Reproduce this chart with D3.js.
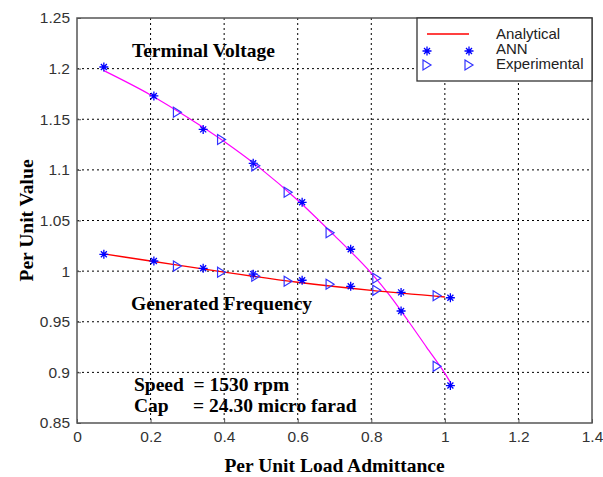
<!DOCTYPE html>
<html>
<head>
<meta charset="utf-8">
<script src="https://cdn.jsdelivr.net/npm/d3@7"></script>
<style>
  body { margin: 0; background: #fff; }
  svg { display: block; }
</style>
</head>
<body>
<svg id="chart" width="603" height="477"></svg>
<script>
// ----- data -----
var xTicks = [0, 0.2, 0.4, 0.6, 0.8, 1, 1.2, 1.4];
var yTicks = [0.85, 0.9, 0.95, 1, 1.05, 1.1, 1.15, 1.2, 1.25];

// analytical curves
var voltCurveX = [0.073, 0.2, 0.3, 0.4, 0.5, 0.6, 0.7, 0.8, 0.85, 0.9, 0.95, 1.0, 1.017];
var voltCurveY = [1.198, 1.174, 1.152, 1.128, 1.101, 1.070, 1.035, 0.998, 0.976, 0.951, 0.925, 0.899, 0.889];
var freqCurveX = [0.073, 0.2, 0.4, 0.6, 0.8, 1.0];
var freqCurveY = [1.017, 1.010, 0.999, 0.989, 0.981, 0.9745];

// ANN points
var annX = [0.073, 0.209, 0.343, 0.479, 0.612, 0.744, 0.881, 1.015];
var annVolt = [1.2016, 1.173, 1.140, 1.1065, 1.068, 1.0216, 0.9606, 0.887];
var annFreq = [1.0166, 1.010, 1.0028, 0.997, 0.991, 0.985, 0.979, 0.9737];

// experimental points
var expX = [0.273, 0.393, 0.486, 0.574, 0.688, 0.815, 0.979];
var expVolt = [1.157, 1.130, 1.104, 1.078, 1.038, 0.993, 0.906];
var expFreq = [1.005, 0.999, 0.995, 0.990, 0.987, 0.981, 0.9757];

var legendLabels = ["Analytical", "ANN", "Experimental"];

// ----- layout -----
var margin = { left: 77, top: 18, right: 11, bottom: 54 };
var svgWidth = 603, svgHeight = 477;
var width = svgWidth - margin.left - margin.right;
var height = svgHeight - margin.top - margin.bottom;

var svg = d3.select("#chart");
var g = svg.append("g")
  .attr("transform", "translate(" + margin.left + "," + margin.top + ")");

var xScale = d3.scaleLinear().domain([0, 1.4]).range([0, width]);
var yScale = d3.scaleLinear().domain([0.85, 1.25]).range([height, 0]);

// grid lines
g.append("g").selectAll("line")
  .data(xTicks.slice(1, -1))
  .enter().append("line")
  .attr("x1", function (d) { return xScale(d); })
  .attr("x2", function (d) { return xScale(d); })
  .attr("y1", 0).attr("y2", height)
  .attr("stroke", "#000").attr("stroke-width", 1)
  .attr("stroke-dasharray", "2,3");

g.append("g").selectAll("line")
  .data(yTicks.slice(1, -1))
  .enter().append("line")
  .attr("y1", function (d) { return yScale(d); })
  .attr("y2", function (d) { return yScale(d); })
  .attr("x1", 0).attr("x2", width)
  .attr("stroke", "#000").attr("stroke-width", 1)
  .attr("stroke-dasharray", "2,3");

// axes
var x_axis = d3.axisBottom(xScale).tickValues(xTicks).tickSize(-4).tickPadding(8)
  .tickFormat(d3.format("~g"));
var y_axis = d3.axisLeft(yScale).tickValues(yTicks).tickSize(-4).tickPadding(7)
  .tickFormat(d3.format("~g"));

g.append("g")
  .attr("transform", "translate(0," + height + ")")
  .call(x_axis)
  .call(styleAxis);
g.append("g")
  .call(y_axis)
  .call(styleAxis);

function styleAxis(sel) {
  sel.select(".domain").remove();
  sel.selectAll(".tick line").attr("stroke", "#555");
  sel.selectAll("text")
    .attr("fill", "#333")
    .style("font-family", "'Liberation Sans', Arial, sans-serif")
    .style("font-size", "15.5px");
}

// frame
g.append("rect")
  .attr("x", 0).attr("y", 0)
  .attr("width", width).attr("height", height)
  .attr("fill", "none").attr("stroke", "#555").attr("stroke-width", 1.5);

// curves
var line = d3.line()
  .x(function (d) { return xScale(d[0]); })
  .y(function (d) { return yScale(d[1]); })
  .curve(d3.curveMonotoneX);

g.append("path")
  .datum(d3.zip(voltCurveX, voltCurveY))
  .attr("d", line)
  .attr("fill", "none").attr("stroke", "#ff00ff").attr("stroke-width", 1.2);

g.append("path")
  .datum(d3.zip(freqCurveX, freqCurveY))
  .attr("d", line)
  .attr("fill", "none").attr("stroke", "#ff0000").attr("stroke-width", 1.4);

// markers
var starPath = "M-4.5,0H4.5M0,-4.5V4.5M-3,-3L3,3M-3,3L3,-3";
var triPath = "M-4,-5L4,0L-4,5Z";

function drawStars(xs, ys) {
  g.append("g").selectAll("path")
    .data(d3.zip(xs, ys))
    .enter().append("path")
    .attr("d", starPath)
    .attr("transform", function (d) { return "translate(" + xScale(d[0]) + "," + yScale(d[1]) + ")"; })
    .attr("fill", "none").attr("stroke", "#0000ff").attr("stroke-width", 1.3);
}
function drawTris(xs, ys) {
  g.append("g").selectAll("path")
    .data(d3.zip(xs, ys))
    .enter().append("path")
    .attr("d", triPath)
    .attr("transform", function (d) { return "translate(" + xScale(d[0]) + "," + yScale(d[1]) + ")"; })
    .attr("fill", "none").attr("stroke", "#3333ff").attr("stroke-width", 1.2);
}

drawStars(annX, annVolt);
drawStars(annX, annFreq);
drawTris(expX, expVolt);
drawTris(expX, expFreq);

// annotations
var serif = "'Liberation Serif', 'Times New Roman', serif";
function note(x, y, txt) {
  svg.append("text")
    .attr("x", x).attr("y", y)
    .attr("xml:space", "preserve")
    .style("font-family", serif).style("font-weight", "bold").style("font-size", "19.5px")
    .style("white-space", "pre")
    .attr("fill", "#000")
    .text(txt);
}
note(132, 57, "Terminal Voltage");
note(131, 310, "Generated Frequency");
note(134, 391, "Speed  = 1530 rpm");
note(134, 412, "Cap     = 24.30 micro farad");

// axis labels
svg.append("text")
  .attr("x", margin.left + width / 2).attr("y", 472)
  .attr("text-anchor", "middle")
  .style("font-family", serif).style("font-weight", "bold").style("font-size", "19.5px")
  .text("Per Unit Load Admittance");

svg.append("text")
  .attr("transform", "translate(33," + (margin.top + height / 2) + ") rotate(-90)")
  .attr("text-anchor", "middle")
  .style("font-family", serif).style("font-weight", "bold").style("font-size", "19.5px")
  .text("Per Unit Value");

// legend
var lg = svg.append("g").attr("transform", "translate(417,18)");
lg.append("rect")
  .attr("width", 175).attr("height", 63)
  .attr("fill", "#fff").attr("stroke", "#333").attr("stroke-width", 1.3);

lg.append("line")
  .attr("x1", 10).attr("x2", 52).attr("y1", 16).attr("y2", 16)
  .attr("stroke", "#ff0000").attr("stroke-width", 1.4);
[10, 52].forEach(function (px) {
  lg.append("path").attr("d", starPath)
    .attr("transform", "translate(" + px + ",33)")
    .attr("fill", "none").attr("stroke", "#0000ff").attr("stroke-width", 1.3);
  lg.append("path").attr("d", triPath)
    .attr("transform", "translate(" + px + ",47)")
    .attr("fill", "none").attr("stroke", "#3333ff").attr("stroke-width", 1.2);
});

lg.selectAll("text.lbl")
  .data(legendLabels)
  .enter().append("text")
  .attr("class", "lbl")
  .attr("x", 79)
  .attr("y", function (d, i) { return 21 + i * 15; })
  .attr("fill", "#222")
  .style("font-family", "'Liberation Sans', Arial, sans-serif")
  .style("font-size", "15px")
  .text(function (d) { return d; });
</script>
</body>
</html>
